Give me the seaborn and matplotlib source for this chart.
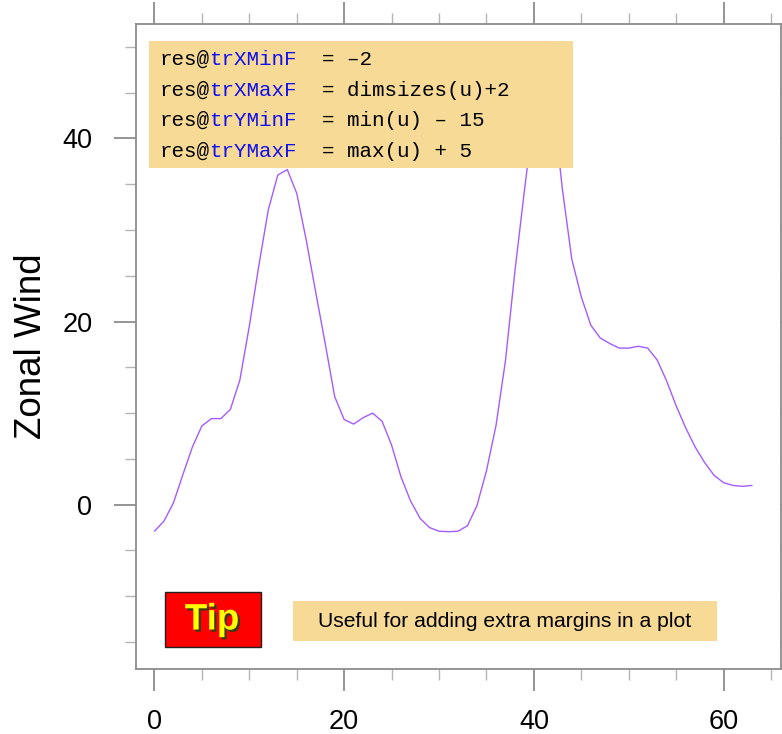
import numpy as np
import pandas as pd
import matplotlib
matplotlib.use("Agg")
import matplotlib.pyplot as plt
import matplotlib.patheffects as pe
from matplotlib.patches import Rectangle
from matplotlib.ticker import MultipleLocator
import seaborn as sns

# Zonal wind profile (one value per grid index)
u = [-2.9, -1.8, 0.2, 3.3, 6.3, 8.6, 9.4, 9.4, 10.4, 13.6,
     19.5, 26.1, 32.2, 36.0, 36.6, 34.0, 28.9, 23.2, 17.6, 11.8,
     9.3, 8.8, 9.5, 10.0, 9.1, 6.5, 3.0, 0.4, -1.5, -2.5,
     -2.9, -2.95, -2.9, -2.3, -0.1, 3.7, 8.6, 15.7, 25.5, 34.3,
     42.6, 47.5, 44.0, 34.5, 26.8, 22.7, 19.6, 18.2, 17.6, 17.1,
     17.1, 17.3, 17.1, 15.8, 13.5, 10.8, 8.4, 6.3, 4.6, 3.2,
     2.4, 2.1, 2.0, 2.1]
x_ticks = [0, 20, 40, 60]
y_ticks = [0, 20, 40]
y_label = "Zonal Wind"

# Resource lines shown in the code panel: (attribute, value expression)
res_names = ["trXMinF", "trXMaxF", "trYMinF", "trYMaxF"]
res_values = ["\u20132", "dimsizes(u)+2", "min(u) \u2013 15", "max(u) + 5"]
tip_text = "Tip"
note_text = "Useful for adding extra margins in a plot"

df = pd.DataFrame({"index": np.arange(len(u)), "u": u})

sns.set_theme(style="ticks")
plt.rcParams["font.family"] = ["Liberation Sans", "DejaVu Sans"]

W, H = 782, 734
fig = plt.figure(figsize=(W / 100, H / 100), dpi=100)


def fx(px):
    return px / W


def fy(py):
    return 1 - py / H


ax = fig.add_axes([fx(135.5), fy(669), fx(780.5) - fx(135.5), fy(24) - fy(669)])

sns.lineplot(data=df, x="index", y="u", color="#A35CFF", linewidth=1.0,
             ax=ax, legend=False)

# Extra margins around the data range
ax.set_xlim(-2, len(u) + 2)
ax.set_ylim(min(u) - 15, max(u) + 5)

ax.xaxis.set_major_locator(plt.FixedLocator(x_ticks))
ax.yaxis.set_major_locator(plt.FixedLocator(y_ticks))
ax.xaxis.set_minor_locator(MultipleLocator(5))
ax.yaxis.set_minor_locator(MultipleLocator(5))

frame_col = "#8c8c8c"
for s in ax.spines.values():
    s.set_color(frame_col)
    s.set_linewidth(1.3)

ax.tick_params(which="both", direction="out", top=True, right=True,
               labeltop=False, labelright=False)
ax.tick_params(which="major", length=16, width=1.3, color=frame_col,
               labelsize=19.5, labelcolor="black")
ax.tick_params(which="minor", length=8, width=1.0, color="#b5b5b5")
ax.tick_params(axis="x", which="major", pad=13)
ax.tick_params(axis="y", which="major", pad=15)

ax.set_xlabel("")
ax.set_ylabel(y_label, fontsize=26.5, color="black")
ax.yaxis.set_label_coords(-0.134, 0.5)

# Code panel with resource settings
panel_col = "#F8DA97"
fig.patches.append(Rectangle((fx(149), fy(168.3)), fx(572.7) - fx(149),
                             fy(41) - fy(168.3), transform=fig.transFigure,
                             facecolor=panel_col, edgecolor="none", zorder=5))
mono_size = 15
char_px = 0.6 * mono_size * 100 / 72  # monospace advance width in pixels
mono = dict(family="Liberation Mono", fontsize=mono_size, va="baseline",
            ha="left", zorder=6)
x0 = 159.3
baselines = [65, 95.5, 126, 156.7]
for name, val, yb in zip(res_names, res_values, baselines):
    fig.text(fx(x0), fy(yb), "res@", color="black", **mono)
    fig.text(fx(x0 + 4 * char_px), fy(yb), name, color="#1010F0", **mono)
    fig.text(fx(x0 + (4 + len(name) + 2) * char_px), fy(yb), "= " + val,
             color="black", **mono)

# Tip badge
fig.patches.append(Rectangle((fx(164.5), fy(647.3)), fx(260.7) - fx(164.5),
                             fy(592.3) - fy(647.3), transform=fig.transFigure,
                             facecolor="#FF0000", edgecolor="#222222",
                             linewidth=1.0, zorder=5))
fig.text(fx(212), fy(620), tip_text, color="#FFFF00", fontsize=26.5,
         fontweight="bold", ha="center", va="center", zorder=7,
         path_effects=[pe.withSimplePatchShadow(offset=(1.6, -1.6),
                                                shadow_rgbFace="#3a3a10",
                                                alpha=1.0)])

# Note box
fig.patches.append(Rectangle((fx(292.7), fy(640.5)), fx(717) - fx(292.7),
                             fy(601.3) - fy(640.5), transform=fig.transFigure,
                             facecolor=panel_col, edgecolor="none", zorder=5))
fig.text(fx(505), fy(627), note_text, color="black", fontsize=15.2,
         ha="center", va="baseline", zorder=6)

fig.savefig("out.png", dpi=100)
